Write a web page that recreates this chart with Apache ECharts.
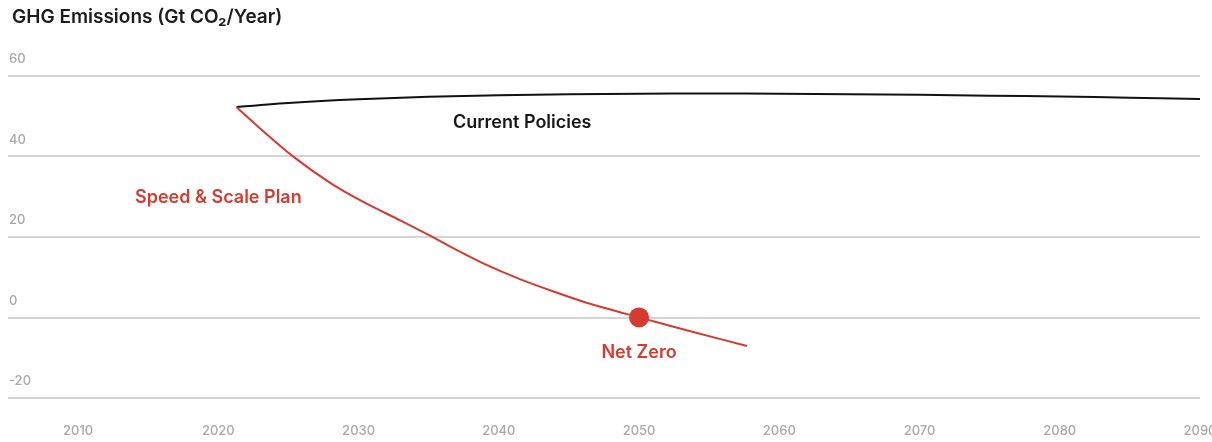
<!DOCTYPE html>
<html>
<head>
<meta charset="utf-8">
<script src="https://cdn.jsdelivr.net/npm/echarts@6/dist/echarts.min.js"></script>
<style>
html,body{margin:0;padding:0;background:#fff;}
#chart{width:1212px;height:442px;}
</style>
</head>
<body>
<div id="chart"></div>
<script>
const titleText = 'GHG Emissions (Gt CO₂/Year)';
const xTickLabels = [2010, 2020, 2030, 2040, 2050, 2060, 2070, 2080, 2090];
const yTicks = [-20, 0, 20, 40, 60];

const currentYears = [2021.3, 2025, 2030, 2035, 2040, 2045, 2050, 2055, 2060, 2065, 2070, 2075, 2080, 2085, 2090];
const currentValues = [52.2, 53.2, 54.1, 54.7, 55.1, 55.35, 55.5, 55.55, 55.5, 55.35, 55.2, 55.0, 54.8, 54.5, 54.2];

const planYears = [2021.3, 2023, 2025.3, 2028, 2030.3, 2033, 2035.3, 2037, 2039, 2041.5, 2044, 2046.2, 2050, 2054, 2057.7];
const planValues = [52.1, 46.8, 40.0, 33.3, 28.7, 24.0, 19.9, 16.7, 13.2, 9.5, 6.3, 3.7, 0, -3.75, -7.1];

const netZeroYear = [2050];
const netZeroValue = [0];

const RED = '#d53b2f';
const pair = (xs, ys) => xs.map((x, i) => [x, ys[i]]);

const chart = echarts.init(document.getElementById('chart'), null, {renderer: 'canvas'});
chart.setOption({
  animation: false,
  backgroundColor: '#ffffff',
  textStyle: {fontFamily: 'Inter, "Noto Sans", sans-serif'},
  title: {
    text: titleText,
    left: 7, top: 3,
    textStyle: {fontFamily: 'Inter, sans-serif', fontSize: 19, fontWeight: 600, color: '#1c1c1c'}
  },
  grid: {left: 8, right: 12, top: 75.5, bottom: 44, containLabel: false, outerBoundsMode: 'none'},
  xAxis: {
    type: 'value',
    min: 2005, max: 2090,
    axisLine: {show: false},
    axisTick: {show: false},
    splitLine: {show: false},
    axisLabel: {
      customValues: xTickLabels,
      margin: 27,
      color: '#a8a8a8',
      fontSize: 13,
      fontFamily: 'Inter, sans-serif',
      fontWeight: 500,
      hideOverlap: false,
      formatter: v => String(v)
    }
  },
  yAxis: {
    type: 'value',
    min: -20, max: 60, interval: 20,
    axisLine: {show: false},
    axisTick: {show: false},
    splitLine: {show: true, lineStyle: {color: '#d4d4d4', width: 2}},
    axisLabel: {
      inside: true,
      margin: 1,
      verticalAlign: 'bottom',
      padding: [0, 0, 10, 0],
      color: '#a8a8a8',
      fontSize: 13,
      fontFamily: 'Inter, sans-serif',
      fontWeight: 500
    }
  },
  series: [
    {
      name: 'Current Policies',
      type: 'line',
      data: pair(currentYears, currentValues),
      smooth: 0.3,
      showSymbol: false,
      lineStyle: {color: '#111111', width: 2},
      z: 2
    },
    {
      name: 'Speed & Scale Plan',
      type: 'line',
      data: pair(planYears, planValues),
      smooth: 0.3,
      showSymbol: false,
      lineStyle: {color: RED, width: 2},
      z: 3
    },
    {
      name: 'Net Zero',
      type: 'scatter',
      data: pair(netZeroYear, netZeroValue),
      symbolSize: 20,
      itemStyle: {color: RED, opacity: 1},
      label: {
        show: true,
        position: 'bottom',
        distance: 16,
        formatter: 'Net Zero',
        color: RED,
        opacity: 1,
        fontSize: 18,
        fontWeight: 600,
        fontFamily: 'Inter, sans-serif'
      },
      z: 4
    }
  ],
  graphic: [
    {
      type: 'text',
      left: 453, top: 114,
      style: {text: 'Current Policies', fill: '#161616', font: '600 18px Inter, sans-serif'}
    },
    {
      type: 'text',
      left: 135, top: 189,
      style: {text: 'Speed & Scale Plan', fill: RED, font: '600 18px Inter, sans-serif'}
    }
  ]
});
</script>
</body>
</html>
